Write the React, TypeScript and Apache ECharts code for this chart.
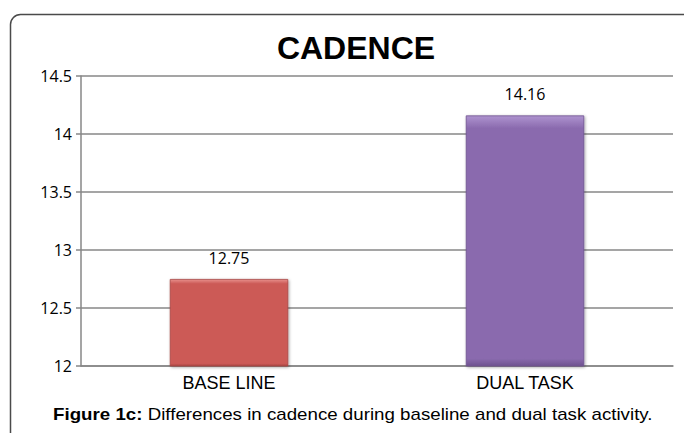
import React, { useEffect, useRef } from "react";
import * as echarts from "echarts";

const categories = ["BASE LINE", "DUAL TASK"];
const values = [12.75, 14.16];
const yTicks = { min: 12, max: 14.5, interval: 0.5 };
const titleText = "CADENCE";
const captionBold = "Figure 1c:";
const captionRest = " Differences in cadence during baseline and dual task activity.";

const barColors = [
  { light: "#E8908C", base: "#CC5A57", dark: "#A84542" },
  { light: "#AE93CF", base: "#8A6AAE", dark: "#6E528F" },
];

export default function App() {
  const ref = useRef<HTMLDivElement>(null);
  useEffect(() => {
    document.body.style.margin = "0";
    const chart = echarts.init(ref.current!, null, { renderer: "svg" });
    const gray = "#878787";
    chart.setOption({
      animation: false,
      backgroundColor: "#ffffff",
      title: {
        text: titleText,
        left: 351,
        textAlign: "center",
        top: 27,
        textStyle: {
          fontFamily: "Liberation Sans",
          fontWeight: "bold",
          fontSize: 32,
          color: "#000",
        },
      },
      grid: { left: 81, right: 11, top: 76, bottom: 67 },
      xAxis: {
        type: "category",
        data: categories,
        axisLine: { show: true, lineStyle: { color: gray, width: 1.5 } },
        axisTick: { show: false },
        axisLabel: {
          fontFamily: "Liberation Sans",
          fontSize: 18,
          color: "#000",
          margin: 8,
        },
      },
      yAxis: {
        type: "value",
        min: yTicks.min,
        max: yTicks.max,
        interval: yTicks.interval,
        axisLine: { show: true, lineStyle: { color: gray, width: 1.5 } },
        axisTick: { show: true, length: 5, lineStyle: { color: gray, width: 1.5 } },
        splitLine: { show: true, lineStyle: { color: gray, width: 1.5 } },
        axisLabel: {
          fontFamily: "Open Sans",
          fontSize: 16,
          color: "#000",
          margin: 9,
        },
      },
      series: [
        {
          type: "bar",
          barWidth: "40%",
          data: values.map((v, i) => ({
            value: v,
            itemStyle: {
              color: new echarts.graphic.LinearGradient(0, 0, 0, 1, [
                { offset: 0, color: barColors[i].light },
                { offset: 0.05, color: barColors[i].base },
                { offset: 0.97, color: barColors[i].base },
                { offset: 1, color: barColors[i].dark },
              ]),
              borderColor: barColors[i].dark,
              borderWidth: 0.8,
              shadowBlur: 3,
              shadowColor: "rgba(0,0,0,0.35)",
              shadowOffsetX: 1,
              shadowOffsetY: 1,
            },
          })),
          label: {
            show: true,
            position: "top",
            distance: 13,
            fontFamily: "Open Sans",
            fontSize: 16,
            color: "#000",
            formatter: (p: any) => p.value.toFixed(2),
          },
        },
      ],
      graphic: [
        {
          type: "rect",
          shape: { x: 10.5, y: 14.5, width: 720, height: 460, r: [10, 0, 0, 0] },
          style: { fill: "none", stroke: "#4a4a4a", lineWidth: 1.5 },
          silent: true,
        },
        {
          type: "text",
          x: 53,
          y: 406,
          scaleX: 1.17,
          style: {
            text: "{b|" + captionBold + "}{r|" + captionRest + "}",
            rich: {
              b: { fontFamily: "Liberation Sans", fontWeight: "bold", fontSize: 16, fill: "#000" },
              r: { fontFamily: "Liberation Sans", fontSize: 16, fill: "#000" },
            },
          },
        },
      ],
    });
    return () => chart.dispose();
  }, []);
  return <div ref={ref} style={{ width: 684, height: 433 }} />;
}
